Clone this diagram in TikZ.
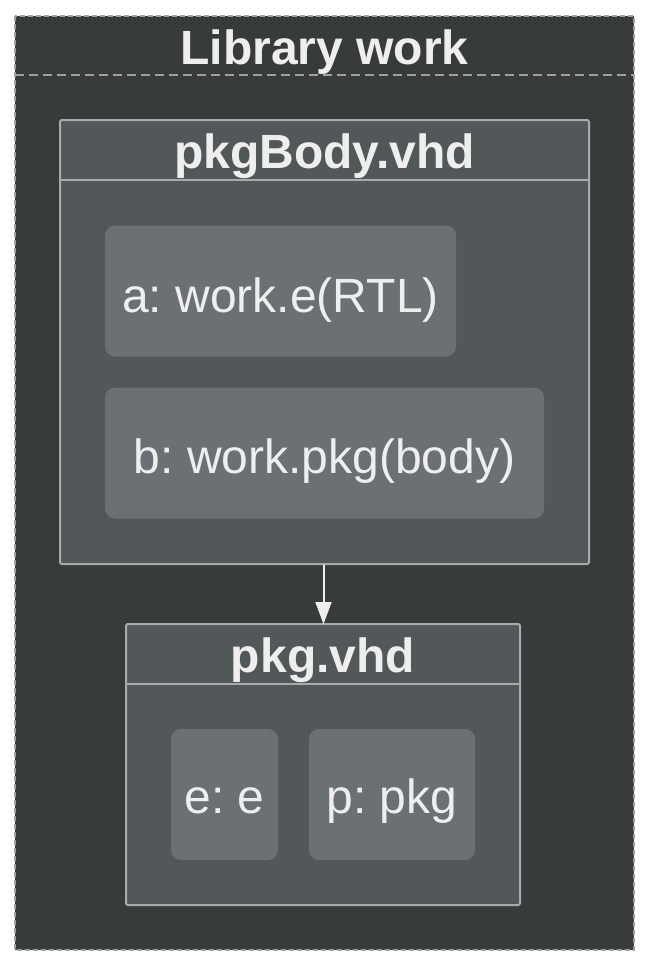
\documentclass[tikz,border=0pt]{standalone}
\usepackage{fontspec}
\setmainfont{Liberation Sans}
\frenchspacing
\usetikzlibrary{arrows.meta}
\definecolor{outerbg}{HTML}{383B3C}
\definecolor{outerline}{HTML}{A0A0A0}
\definecolor{filebg}{HTML}{525759}
\definecolor{fileline}{HTML}{AAAAAA}
\definecolor{itembg}{HTML}{6A7073}
\definecolor{txt}{HTML}{EEEEEE}
\tikzset{
  x=1pt,y=-1pt,
  outerbox/.style={draw=outerline,fill=outerbg,line width=1.5pt,dash pattern=on 5pt off 3pt},
  filebox/.style={draw=fileline,fill=filebg,line width=2pt,rounded corners=2pt},
  itembox/.style={fill=itembg,rounded corners=10pt,inner sep=0pt},
  ttl/.style={text=txt,font=\fontsize{48}{52}\selectfont\bfseries,anchor=base,inner sep=0pt},
  lbl/.style={text=txt,font=\fontsize{48}{52}\selectfont,anchor=base,inner sep=0pt},
  conn/.style={draw=txt,line width=2pt,-{Triangle[length=22pt,width=16pt]}}
}
\begin{document}
\begin{tikzpicture}
\useasboundingbox[fill=white] (0,0) rectangle (649,966);
% outer library
\draw[outerbox] (15,16) rectangle (634,950);
\draw[draw=outerline,line width=1.5pt,dash pattern=on 9pt off 5pt] (15,75) -- (634,75);
\node[ttl] (libtitle) at (324.5,64) {Library work};
% pkgBody.vhd
\draw[filebox] (60,120) rectangle (589,564);
\draw[fileline,line width=2pt] (60,180) -- (589,180);
\node[ttl] (bodytitle) at (324.5,168) {pkgBody.vhd};
\node[itembox,minimum width=351pt,minimum height=131pt] (a) at (280.5,291) {};
\node[lbl] (atext) at (280.5,312) {a: work.e(RTL)};
\node[itembox,minimum width=439pt,minimum height=131pt] (b) at (324.5,453) {};
\node[lbl] (btext) at (324.5,473) {b: work.pkg(body)};
% pkg.vhd
\draw[filebox] (126,624) rectangle (520,905);
\draw[fileline,line width=2pt] (126,684) -- (520,684);
\node[ttl] (pkgtitle) at (323,672) {pkg.vhd};
\node[itembox,minimum width=107pt,minimum height=131pt] (e) at (224.5,794.5) {};
\node[lbl] (etext) at (224.5,813) {e: e};
\node[itembox,minimum width=166pt,minimum height=131pt] (p) at (392,794.5) {};
\node[lbl] (ptext) at (392,813) {p: pkg};
% connector
\coordinate (from) at (323.5,565);
\coordinate (to) at (323.5,624);
\draw[conn] (from) -- (to);
\end{tikzpicture}
\end{document}
